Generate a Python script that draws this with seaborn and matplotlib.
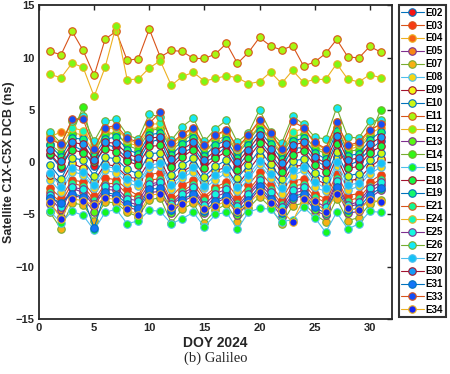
import matplotlib
matplotlib.use("Agg")

import matplotlib.pyplot as plt
import numpy as np
import seaborn as sns
from matplotlib.colors import hsv_to_rgb

# ── Data ─────────────────────────────────────────────────────────────────────
days = list(range(1, 32))

sats = ["E02", "E03", "E04", "E05", "E07", "E08", "E09", "E10", "E11", "E12",
        "E13", "E14", "E15", "E18", "E19", "E21", "E24", "E25", "E26", "E27",
        "E30", "E31", "E33", "E34"]

E02 = [0.7, -0.6, 1.6, 1.1, -0.4, 1.7, 1.4, 0.3, 0.1, 1.9, 2.2, -0.3, 0.9, 1.4, -0.1, 0.6,
       1.5, -0.5, 0.9, 2.1, 0.8, -0.6, 1.3, 1.4, 0.2, -0.4, 2.0, -0.3, 0.1, 1.2, 2.0]
E03 = [-2.5, -3.4, -1.7, -1.9, -3.2, -1.5, -1.7, -2.6, -3.2, -1.2, -1.0, -3.3, -2.2, -1.7, -3.3, -2.4,
       -1.9, -3.4, -2.2, -0.9, -2.1, -3.6, -1.8, -1.6, -3.0, -3.5, -1.1, -3.2, -3.0, -1.9, -1.2]
E04 = [2.4, 2.9, 2.8, 2.6, 0.9, 2.9, 2.7, 1.8, 1.6, 3.2, 3.3, 1.4, 2.2, 2.9, 1.4, 1.3,
       2.7, 1.0, 2.2, 3.5, 2.3, 0.9, 2.6, 1.6, 1.5, 1.0, 3.4, 1.2, 1.5, 2.7, 3.3]
E05 = [-3.4, -4.6, -2.5, -2.9, -4.2, -2.6, -2.7, -3.8, -4.1, -2.4, -2.0, -4.1, -3.3, -2.6, -4.4, -3.3,
       -2.9, -4.5, -3.2, -2.0, -3.2, -4.7, -3.0, -2.7, -4.0, -4.5, -2.1, -4.3, -4.0, -2.8, -2.2]
E07 = [-4.8, -6.4, -3.9, -4.1, -5.6, -3.8, -3.9, -4.8, -5.2, -3.6, -3.4, -5.8, -4.5, -3.9, -5.8, -4.6,
       -4.0, -5.7, -4.4, -3.3, -4.3, -5.9, -4.2, -3.9, -5.0, -5.7, -3.5, -5.6, -5.3, -4.0, -3.6]
E08 = [-1.7, -2.9, -0.9, -1.2, -2.5, -0.8, -1.0, -2.0, -2.3, -0.6, -0.4, -2.6, -1.5, -0.9, -2.5, -1.7,
       -1.0, -2.8, -1.6, -0.2, -1.5, -3.0, -1.3, -0.8, -2.4, -2.8, -0.4, -2.7, -2.3, -1.1, -0.5]
E09 = [-1.2, -2.0, -0.1, -0.6, -1.8, -0.2, -0.4, -1.4, -1.6, 0.1, 0.2, -1.9, -0.9, -0.3, -1.9, -0.8,
       -0.5, -2.2, -0.8, 0.6, -0.8, -2.1, -0.4, -0.3, -1.6, -2.1, 0.5, -1.8, -1.6, -0.5, 0.3]
E10 = [-0.3, -1.6, 0.4, 0.2, -1.3, 0.5, 0.3, -0.7, -1.1, 0.8, 0.9, -1.2, -0.3, 0.4, -1.4, -0.4,
       0.2, -1.5, -0.3, 1.2, -0.2, -1.6, 0.1, 0.3, -1.0, -1.6, 1.0, -1.3, -1.1, 0.2, 0.9]
E11 = [10.58, 10.27, 12.5, 10.68, 8.29, 11.77, 12.5, 9.72, 9.89, 12.72, 10.05, 10.68, 10.58, 9.91,
       9.91, 10.33, 11.35, 9.44, 10.49, 11.92, 11.1, 10.72, 11.13, 9.19, 9.57, 10.39, 11.73, 10.08,
       9.95, 11.06, 10.52]
E12 = [8.39, 8.07, 9.47, 9.06, 6.28, 9.09, 13.04, 7.88, 7.94, 9.0, 9.69, 7.33, 8.2, 8.58, 7.75,
       8.0, 8.26, 8.07, 7.5, 7.69, 8.61, 7.52, 8.77, 7.62, 7.91, 7.91, 9.41, 7.94, 7.66, 8.36, 8.07]
E13 = [-4.0, -5.2, -3.2, -3.4, -4.8, -3.1, -3.3, -4.3, -4.6, -2.9, -2.8, -4.9, -3.8, -3.2, -4.9, -3.9,
       -3.4, -5.1, -3.9, -2.5, -3.8, -5.2, -3.5, -3.2, -4.6, -5.1, -2.6, -4.9, -4.7, -3.4, -2.7]
E14 = [1.7, 0.9, 2.7, 5.3, 1.0, 2.6, 2.8, 1.6, 1.2, 3.0, 3.2, 1.1, 2.0, 2.7, 0.9, 2.1,
       2.5, 0.8, 2.0, 3.4, 2.1, 0.7, 2.4, 2.7, 1.3, 0.8, 3.3, 1.0, 1.2, 2.5, 5.0]
E15 = [-4.7, -5.8, -4.7, -5.1, -6.5, -4.8, -4.5, -5.9, -5.6, -4.6, -4.7, -5.9, -5.4, -4.8, -6.2, -5.0,
       -4.8, -6.4, -4.8, -4.4, -4.5, -5.7, -5.5, -4.3, -5.3, -6.7, -4.8, -6.4, -5.9, -4.7, -4.8]
E18 = [0.8, -0.4, 1.2, 0.9, 0.0, 1.3, 1.0, 0.1, -0.3, 1.5, 1.6, -0.5, 0.5, 1.2, -0.6, 0.4,
       1.0, -0.8, 0.4, 1.8, 0.5, -0.9, 0.7, 1.1, -0.3, -0.9, 1.7, -0.6, -0.4, 0.9, 1.5]
E19 = [1.6, 0.5, 2.3, 2.2, 0.6, 2.2, 2.4, 1.2, 0.8, 2.6, 2.8, 0.7, 1.7, 2.3, 0.6, 1.6,
       2.1, 0.4, 1.6, 3.0, 1.7, 0.3, 2.0, 2.3, 0.9, 0.3, 3.0, 0.6, 0.8, 2.1, 2.9]
E21 = [-2.9, -3.9, -2.0, -2.3, -3.6, -2.1, -2.0, -3.1, -3.4, -1.7, -1.6, -3.7, -2.8, -2.1, -3.6, -2.6,
       -2.3, -3.9, -2.7, -1.4, -2.6, -4.0, -2.3, -2.1, -3.3, -3.9, -1.5, -3.7, -3.4, -2.3, -1.6]
E24 = [2.7, 1.5, 3.3, 3.0, 1.6, 3.2, 3.3, 2.1, 1.8, 3.6, 3.7, 1.6, 2.6, 3.2, 1.5, 2.5,
       3.0, 1.3, 2.5, 3.9, 2.6, 1.2, 2.9, 3.2, 1.8, 1.2, 3.8, 1.5, 1.7, 3.0, 3.7]
E25 = [-3.1, -4.3, -2.4, -2.6, -4.0, -2.3, -2.4, -3.5, -3.7, -2.1, -1.9, -4.0, -3.0, -2.4, -4.1, -3.0,
       -2.6, -4.2, -3.0, -1.7, -2.9, -4.3, -2.7, -2.4, -3.7, -4.3, -1.8, -4.1, -3.8, -2.5, -1.9]
E26 = [2.9, 1.8, 3.9, 4.4, 2.0, 3.9, 4.1, 2.6, 2.2, 4.6, 4.3, 2.1, 3.4, 4.2, 2.0, 3.2,
       4.0, 1.9, 2.8, 5.0, 2.9, 1.8, 4.4, 3.6, 2.4, 2.2, 5.2, 2.4, 2.3, 3.9, 4.0]
E27 = [-1.0, -2.4, -0.6, -0.9, -2.2, -0.4, -0.6, -1.6, -2.0, -0.3, -0.1, -2.2, -1.2, -0.5, -2.3, -1.2,
       -0.7, -2.4, -1.2, 0.1, -1.1, -2.5, -0.8, -0.5, -1.9, -2.5, 0.0, -2.2, -2.0, -0.8, -0.1]
E30 = [1.2, 0.1, 1.9, 1.7, 0.2, 1.9, 1.8, 0.8, 0.4, 2.3, 2.4, 0.3, 1.2, 1.9, 0.2, 1.1,
       1.7, 0.0, 1.2, 2.6, 1.3, -0.1, 1.6, 1.9, 0.5, -0.1, 2.5, 0.2, 0.4, 1.7, 2.4]
E31 = [-3.4, -3.9, -3.0, -3.3, -6.3, -2.9, -3.1, -4.0, -4.4, -2.6, -2.5, -4.6, -3.6, -3.0, -4.7, -3.7,
       -3.2, -4.8, -3.6, -2.3, -3.5, -4.9, -3.3, -3.0, -4.3, -4.9, -2.4, -4.6, -4.4, -3.1, -2.5]
E33 = [2.2, 1.7, 4.1, 4.1, 1.3, 3.3, 3.5, 2.3, 1.9, 3.7, 4.8, 1.8, 2.7, 3.3, 1.6, 2.6,
       3.1, 1.4, 2.6, 4.0, 2.8, 1.3, 3.9, 3.3, 1.9, 1.3, 3.8, 1.6, 1.9, 3.1, 3.6]
E34 = [-3.8, -5.4, -3.5, -3.7, -4.1, -3.4, -3.6, -4.5, -5.1, -3.2, -3.0, -4.3, -4.0, -3.6, -4.5, -4.2,
       -3.7, -4.7, -4.0, -2.9, -3.9, -4.7, -5.7, -3.5, -3.7, -4.8, -3.0, -4.4, -4.6, -3.6, -3.8]

series = [E02, E03, E04, E05, E07, E08, E09, E10, E11, E12, E13, E14, E15, E18,
          E19, E21, E24, E25, E26, E27, E30, E31, E33, E34]

# ── Style ────────────────────────────────────────────────────────────────────
sns.set_theme(style="white")
plt.rcParams["font.family"] = ["Liberation Sans", "DejaVu Sans"]
plt.rcParams["font.weight"] = "bold"

# MATLAB default line colour order
line_order = ["#0072BD", "#D95319", "#EDB120", "#7E2F8E", "#77AC30", "#4DBEEE", "#A2142F"]

fig = plt.figure(figsize=(4.5, 3.74), dpi=100)
ax = fig.add_axes([0.0867, 0.147, 0.784, 0.839])

n = len(sats)
for i, (name, vals) in enumerate(zip(sats, series)):
    lc = line_order[i % len(line_order)]
    fc = hsv_to_rgb([(i / (n - 1)) * (235 / 360), 0.92, 0.97])
    sns.lineplot(x=days, y=vals, ax=ax, color=lc, lw=0.8, marker="o",
                 markersize=5.4, markerfacecolor=fc, markeredgecolor=lc,
                 markeredgewidth=0.8, label=name)

ax.set_xlim(0, 32)
ax.set_ylim(-15, 15)
ax.set_xticks([0, 5, 10, 15, 20, 25, 30])
ax.set_yticks([-15, -10, -5, 0, 5, 10, 15])
ax.tick_params(direction="in", length=3.5, width=1.0, labelsize=8,
               top=True, right=True, colors="#262626", pad=3)
for lab in ax.get_xticklabels() + ax.get_yticklabels():
    lab.set_fontweight("bold")
for sp in ax.spines.values():
    sp.set_linewidth(1.3)
    sp.set_color("#262626")

ax.set_xlabel("DOY 2024", fontsize=10, fontweight="bold", labelpad=2)
ax.set_ylabel("Satellite C1X-C5X DCB (ns)", fontsize=9, fontweight="bold", labelpad=1)

leg = ax.legend(loc="upper left", bbox_to_anchor=(1.02, 1.0), borderaxespad=0,
                fontsize=7, frameon=True, fancybox=False, edgecolor="black",
                handlelength=2.3, handletextpad=0.2, labelspacing=0.3,
                borderpad=0.25, labelcolor="black")
leg.get_frame().set_linewidth(1.5)
for t in leg.get_texts():
    t.set_fontweight("bold")
    t.set_color("black")

fig.text(0.479, 0.024, "(b) Galileo", ha="center", va="bottom", fontsize=10.5,
         family=["Liberation Serif", "DejaVu Serif"], fontweight="normal")

fig.savefig("out.png", dpi=100)
